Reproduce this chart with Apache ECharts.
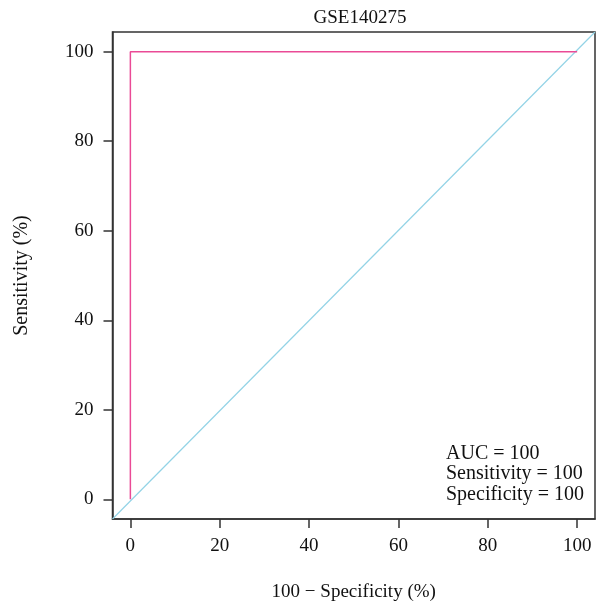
<!DOCTYPE html>
<html><head><meta charset="utf-8">
<script src="https://cdn.jsdelivr.net/npm/echarts@6/dist/echarts.min.js"></script>
<style>html,body{margin:0;padding:0;background:#fff}#c{width:603px;height:612px}</style>
</head><body><div id="c"></div>
<script>
const titleText = 'GSE140275';
const xTicks = [0, 20, 40, 60, 80, 100];
const yTicks = [0, 20, 40, 60, 80, 100];
const rocX = [0, 0, 100];
const rocY = [0, 100, 100];
const diagX = [-4, 104];
const diagY = [-4.4, 104.4];
const statsLines = ['AUC = 100', 'Sensitivity = 100', 'Specificity = 100'];

const font = 'Liberation Serif';
const chart = echarts.init(document.getElementById('c'));
chart.setOption({
  animation: false,
  backgroundColor: '#fff',
  title: {text: titleText, left: 355, top: 4, textAlign: 'center',
    textStyle: {fontFamily: font, fontSize: 19, fontWeight: 'normal', color: '#111'}},
  grid: {left: 112.5, right: 8, top: 32, bottom: 93, show: true, borderColor: '#333', borderWidth: 1.5, backgroundColor: 'transparent'},
  xAxis: {type: 'value', min: -4, max: 104,
    name: '100 \u2212 Specificity (%)', nameLocation: 'middle', nameGap: 64,
    nameTextStyle: {fontFamily: font, fontSize: 19, color: '#111'},
    axisLine: {show: true, onZero: false, lineStyle: {color: '#333', width: 1.5}}, splitLine: {show: false},
    axisTick: {show: true, inside: false, length: 9, customValues: xTicks, lineStyle: {color: '#333', width: 1.5}},
    axisLabel: {customValues: xTicks, margin: 18, fontFamily: font, fontSize: 19, color: '#111'}},
  yAxis: {type: 'value', min: -4.4, max: 104.4,
    name: 'Sensitivity (%)', nameLocation: 'middle', nameGap: 81,
    nameTextStyle: {fontFamily: font, fontSize: 20, color: '#111'},
    axisLine: {show: true, onZero: false, lineStyle: {color: '#333', width: 1.5}}, splitLine: {show: false},
    axisTick: {show: true, inside: false, length: 9, customValues: yTicks, lineStyle: {color: '#333', width: 1.5}},
    axisLabel: {customValues: yTicks, margin: 19, fontFamily: font, fontSize: 19, color: '#111'}},
  series: [
    {type: 'line', data: diagX.map((x, i) => [x, diagY[i]]), symbol: 'none', clip: true,
      lineStyle: {color: '#93d3e6', width: 1.2}},
    {type: 'line', data: rocX.map((x, i) => [x, rocY[i]]), symbol: 'none', clip: true,
      lineStyle: {color: '#ea4a96', width: 1.5}}
  ],
  graphic: [{type: 'text', left: 446, top: 443,
    style: {text: statsLines.join('\n'), font: '20px "Liberation Serif"', lineHeight: 20.5, fill: '#111'}}]
});
</script></body></html>
